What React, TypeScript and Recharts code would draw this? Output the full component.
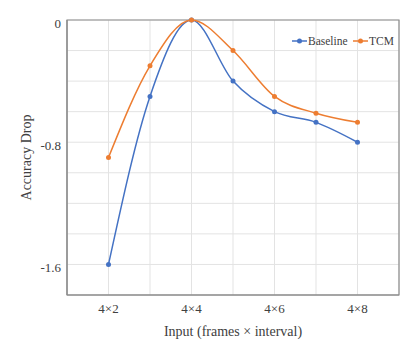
import React from 'react';
import { LineChart, Line, XAxis, YAxis, CartesianGrid, ReferenceArea, Label } from 'recharts';

const intervals = [2, 3, 4, 5, 6, 7, 8];
const baseline = [-1.6, -0.5, 0, -0.4, -0.6, -0.67, -0.8];
const tcm = [-0.9, -0.3, 0, -0.2, -0.5, -0.61, -0.67];
const yTicks = [0, -0.2, -0.4, -0.6, -0.8, -1.0, -1.2, -1.4, -1.6, -1.8];
const yLabelTicks = [0, -0.8, -1.6];
const xLabelTicks = [2, 4, 6, 8];
const seriesNames = ['Baseline', 'TCM'];
const colors = ['#4472C4', '#ED7D31'];

const data = intervals.map((v, i) => ({ x: v, Baseline: baseline[i], TCM: tcm[i] }));

const FONT = '"Liberation Serif", "Times New Roman", serif';
const TEXT = '#404040';

const LegendBox = () => (
  <g>
    {seriesNames.map((n, i) => {
      const x0 = [292, 353][i];
      return (
        <g key={n}>
          <line x1={x0} x2={x0 + 15} y1={41} y2={41} stroke={colors[i]} strokeWidth={1.5} />
          <circle cx={x0 + 7.5} cy={41} r={2.5} fill={colors[i]} />
          <text x={x0 + 16} y={45} fontSize={11.5} fontFamily={FONT} fill={TEXT}>{n}</text>
        </g>
      );
    })}
  </g>
);

export default function App() {
  return (
    <div style={{ position: 'absolute', left: 0, top: 0, background: '#fff' }}>
      <LineChart width={415} height={358} data={data} margin={{ top: 20, right: 16, bottom: 0, left: 0 }}>
        <CartesianGrid stroke="#e3e3e3" strokeWidth={1} />
        <XAxis
          dataKey="x"
          type="number"
          domain={[1, 9]}
          ticks={intervals}
          tickFormatter={(v: number) => (xLabelTicks.includes(v) ? `4×${v}` : '')}
          height={63}
          tickLine={false}
          tickSize={0}
          tickMargin={9}
          axisLine={{ stroke: '#8c8c8c', strokeWidth: 1.2 }}
          tick={{ fontSize: 13, fontFamily: FONT, fill: TEXT }}
        >
          <Label value="Input (frames × interval)" position="insideBottom" offset={22} style={{ fontSize: 14, fontFamily: FONT, fill: TEXT }} />
        </XAxis>
        <YAxis
          type="number"
          domain={[-1.8, 0]}
          ticks={yTicks}
          interval={0}
          tickFormatter={(v: number) => (yLabelTicks.some((t) => Math.abs(t - v) < 1e-9) ? `${v}` : '')}
          width={67}
          tickLine={false}
          tickSize={0}
          tickMargin={6}
          axisLine={{ stroke: '#8c8c8c', strokeWidth: 1.2 }}
          tick={{ fontSize: 13, fontFamily: FONT, fill: TEXT, dy: 3 }}
        >
          <Label
            content={(props: any) => {
              const vb = props.viewBox || {};
              const cx = 26;
              const cy = vb.y + vb.height / 2;
              return (
                <text x={cx} y={cy} transform={`rotate(-90 ${cx} ${cy})`} textAnchor="middle" dominantBaseline="central" fontSize={14} fontFamily={FONT} fill={TEXT}>
                  Accuracy Drop
                </text>
              );
            }}
          />
        </YAxis>
        <ReferenceArea x1={1} x2={9} y1={-1.8} y2={0} fill="none" stroke="#8c8c8c" strokeWidth={1.2} ifOverflow="visible" />
        <Line type="monotone" dataKey="Baseline" stroke={colors[0]} strokeWidth={1.5} dot={{ r: 2.5, fill: colors[0], stroke: colors[0], strokeWidth: 0 }} activeDot={false} isAnimationActive={false} />
        <Line type="monotone" dataKey="TCM" stroke={colors[1]} strokeWidth={1.5} dot={{ r: 2.5, fill: colors[1], stroke: colors[1], strokeWidth: 0 }} activeDot={false} isAnimationActive={false} />
        <LegendBox />
      </LineChart>
    </div>
  );
}
